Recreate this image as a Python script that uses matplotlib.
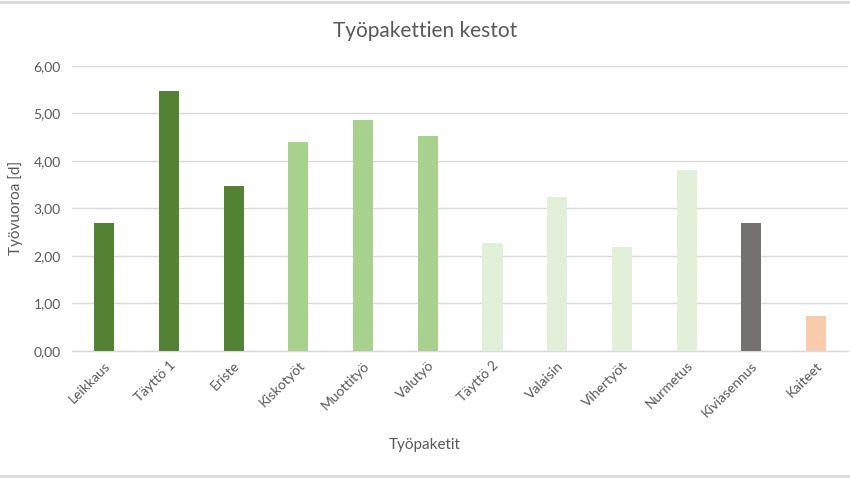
import matplotlib
matplotlib.use("Agg")
import matplotlib.pyplot as plt
from matplotlib.lines import Line2D

categories = ["Leikkaus", "Täyttö 1", "Eriste", "Kiskotyöt", "Muottityö", "Valutyö",
              "Täyttö 2", "Valaisin", "Vihertyöt", "Nurmetus", "Kiviasennus", "Kaiteet"]
values = [2.70, 5.48, 3.48, 4.39, 4.87, 4.52, 2.28, 3.25, 2.18, 3.80, 2.70, 0.74]
colors = ["#548235", "#548235", "#548235", "#A9D18E", "#A9D18E", "#A9D18E",
          "#E2F0D9", "#E2F0D9", "#E2F0D9", "#E2F0D9", "#767171", "#F8CBAD"]
yticks = [0, 1, 2, 3, 4, 5, 6]

plt.rcParams['font.family'] = ['Lato', 'DejaVu Sans']

fig = plt.figure(figsize=(8.5, 4.78), dpi=100)
ax = fig.add_axes([0.0847, 0.2657, 0.9133, 0.5963])

x = range(len(categories))
ax.bar(x, values, width=0.31, color=colors, zorder=3)
ax.set_xlim(-0.5, len(categories) - 0.5)
ax.set_ylim(0, 6)
ax.set_yticks(yticks)
ax.set_yticklabels([f"{v:.2f}".replace(".", ",") for v in yticks], fontsize=10, color="#595959")
ax.set_xticks(list(x))
ax.set_xticklabels(categories, rotation=45, ha="right", rotation_mode="anchor",
                   fontsize=10, color="#595959")
ax.tick_params(length=0, pad=8)
ax.tick_params(axis='x', pad=6)
ax.grid(axis='y', color="#D9D9D9", linewidth=1, zorder=0)
for s in ["top", "right", "left"]:
    ax.spines[s].set_visible(False)
ax.spines["bottom"].set_color("#D9D9D9")
ax.spines["bottom"].set_linewidth(1)

fig.text(0.5, 0.935, "Työpakettien kestot", ha="center", va="center", fontsize=15, color="#595959")
fig.text(0.5, 0.068, "Työpaketit", ha="center", va="center", fontsize=11, color="#595959")
fig.text(0.018, 0.565, "Työvuoroa [d]", ha="center", va="center", rotation=90, fontsize=11, color="#595959")

for yy in (0.996, 0.004):
    fig.lines.append(Line2D([0, 1], [yy, yy], transform=fig.transFigure,
                            color="#D9D9D9", linewidth=2))

fig.savefig("out.png", dpi=100)
